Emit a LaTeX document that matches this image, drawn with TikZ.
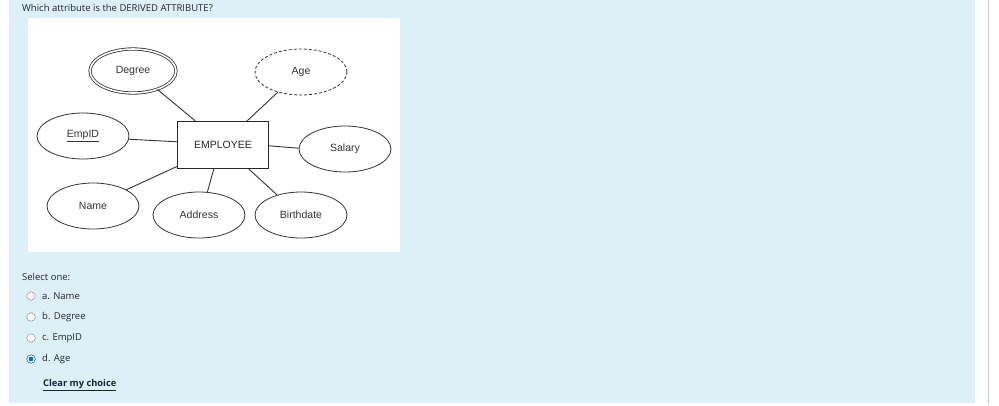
\documentclass[tikz,border=0pt]{standalone}
\usepackage{fontspec}
\setmainfont{Open Sans}
\newfontfamily\diagfont{Liberation Sans}
\usetikzlibrary{shapes.geometric}

\definecolor{panelblue}{RGB}{222,240,247}
\definecolor{pickblue}{RGB}{15,108,191}
\definecolor{uitext}{RGB}{35,38,43}
\definecolor{linkdark}{RGB}{25,35,60}

\tikzset{
  attr/.style={ellipse, draw=black!80, line width=0.8pt, minimum width=92pt,
    minimum height=46pt, inner sep=0pt, text=black!80,
    font=\diagfont\fontsize{10.5}{12}\selectfont},
  entity/.style={rectangle, draw=black!85, line width=0.9pt, minimum width=91pt,
    minimum height=47pt, inner sep=0pt, text=black!85,
    font=\diagfont\fontsize{10.5}{12}\selectfont},
  link/.style={draw=black!80, line width=0.9pt},
  uilabel/.style={anchor=west, inner sep=0pt, text=uitext,
    font=\fontsize{9.5}{11}\selectfont},
  radio/.style={circle, draw=black!40, fill=white, line width=0.6pt,
    minimum size=8.5pt, inner sep=0pt},
  picked/.style={radio, draw=pickblue,
    path picture={\fill[pickblue] (path picture bounding box.center) circle (2.4pt);}}
}

\begin{document}
\begin{tikzpicture}[x=1pt, y=-1pt]
  \useasboundingbox (0, 0) rectangle (999, 405);
  \fill [white] (0, 0) rectangle (999, 405);
  \fill [panelblue] (9, 0) rectangle (975, 403);
  \draw [black!20, line width=1pt] (988, 0) -- (988, 405);

  % question
  \node [uilabel] (question) at (22, 8) {Which attribute is the DERIVED ATTRIBUTE?};

  % diagram
  \fill [white] (28, 18) rectangle (400, 252);

  \node [entity] (employee) at (223, 145) {EMPLOYEE};
  \node [attr, double, double distance=1.6pt, minimum width=86pt, minimum height=44pt]
    (degree) at (133, 71) {Degree};
  \node [attr, dashed, dash pattern=on 3pt off 2pt] (age) at (301, 72) {Age};
  \node [attr] (empid) at (83, 136) {\underline{EmpID}};
  \node [attr] (salary) at (345, 149) {Salary};
  \node [attr] (name) at (93, 206) {Name};
  \node [attr] (address) at (199, 215) {Address};
  \node [attr] (birthdate) at (301, 215) {Birthdate};

  \draw [link] (degree.-37) -- (employee.139);
  \draw [link] (age.-139) -- (employee.45);
  \draw [link] (empid.-4) -- (employee.176);
  \draw [link] (employee.-1) -- (salary.179);
  \draw [link] (name.26) -- (employee.205);
  \draw [link] (employee.249) -- (address.70);
  \draw [link] (employee.-43) -- (birthdate.140);

  % answers
  \node [uilabel] (select) at (22, 277) {Select one:};

  \node [radio] (ra) at (31, 296) {};
  \node [uilabel] (la) at (42, 296) {a. Name};
  \node [radio] (rb) at (31, 317) {};
  \node [uilabel] (lb) at (42, 317) {b. Degree};
  \node [radio] (rc) at (31, 338) {};
  \node [uilabel] (lc) at (42, 338) {c. EmpID};
  \node [picked] (rd) at (31, 359) {};
  \node [uilabel] (ld) at (42, 359) {d. Age};

  \node [uilabel, text=linkdark, font=\bfseries\fontsize{9.3}{11}\selectfont]
    (clear) at (43, 385) {\underline{Clear my choice}};
\end{tikzpicture}
\end{document}
